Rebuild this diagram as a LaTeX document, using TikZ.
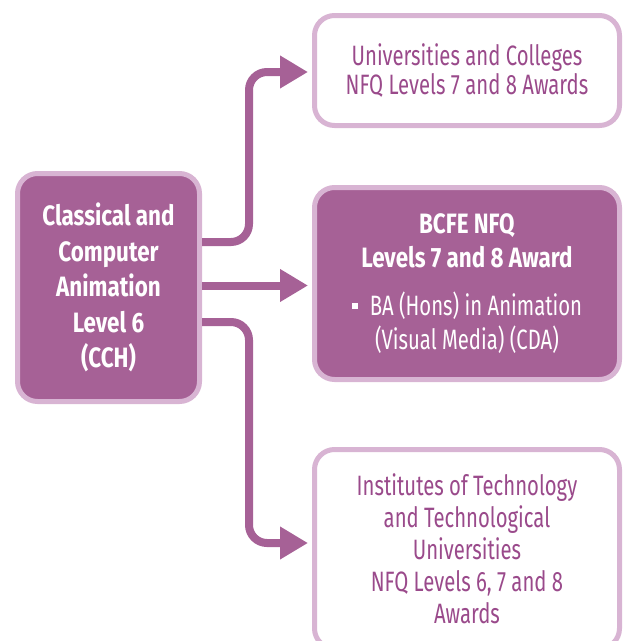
\documentclass[tikz,border=0pt]{standalone}
\usepackage{fontspec}
\setmainfont{Fira Sans}[UprightFeatures={FakeStretch=0.725},
  BoldFont={Fira Sans Bold}, BoldFeatures={FakeStretch=0.8}]
\usetikzlibrary{arrows.meta, positioning}

\definecolor{plum}{HTML}{A66196}
\definecolor{lilac}{HTML}{D8B4D3}
\definecolor{plumtext}{HTML}{9A4A8B}

\tikzset{
  box/.style={rectangle, rounded corners=20pt, draw=lilac, line width=5pt,
    align=center, inner sep=0pt},
  darkbox/.style={box, fill=plum, text=white},
  lightbox/.style={box, fill=white, text=plumtext},
  flow/.style={draw=plum, line width=8pt, rounded corners=18pt, shorten >=4pt,
    -{Triangle[length=28pt, width=31pt]}}
}

\begin{document}
\begin{tikzpicture}[x=1pt, y=-1pt]
  \clip (0,0) rectangle (625,641);
  % Source course
  \node[darkbox, minimum width=182pt, minimum height=228pt,
        font=\fontsize{28}{35.5}\selectfont\bfseries] (cch) at (108.5,287.5)
    {Classical and\\Computer\\Animation\\Level 6\\(CCH)};
  % Progression routes
  \node[lightbox, minimum width=305pt, minimum height=110pt,
        font=\fontsize{28}{29}\selectfont] (unis) at (467,70.5)
    {Universities and Colleges\\NFQ Levels 7 and 8 Awards};
  \node[darkbox, minimum width=305pt, minimum height=192pt,
        font=\fontsize{28}{34}\selectfont] (bcfe) at (467,283.5)
    {\textbf{BCFE NFQ}\\\textbf{Levels 7 and 8 Award}\\[14pt]
     \raisebox{6pt}{\rule{6pt}{6pt}}\hspace{12pt}BA (Hons) in Animation\\
     (Visual Media) (CDA)};
  \node[lightbox, minimum width=305pt, minimum height=199pt,
        font=\fontsize{28}{32}\selectfont] (tech) at (467,549)
    {Institutes of Technology\\and Technological\\Universities\\
     NFQ Levels 6, 7 and 8\\Awards};
  % Arrows
  \coordinate (fork) at (249,0);
  \draw[flow] ([yshift=45.5pt]cch.east) -| ([yshift=-1.5pt]fork |- unis.west)
    -- ([yshift=-1.5pt]unis.west);
  \draw[flow] ([yshift=2pt]cch.east) -- ([yshift=2pt]cch.east -| bcfe.west);
  \draw[flow] ([yshift=-34.5pt]cch.east) -| ([yshift=6pt]fork |- tech.west)
    -- ([yshift=6pt]tech.west);
\end{tikzpicture}
\end{document}
